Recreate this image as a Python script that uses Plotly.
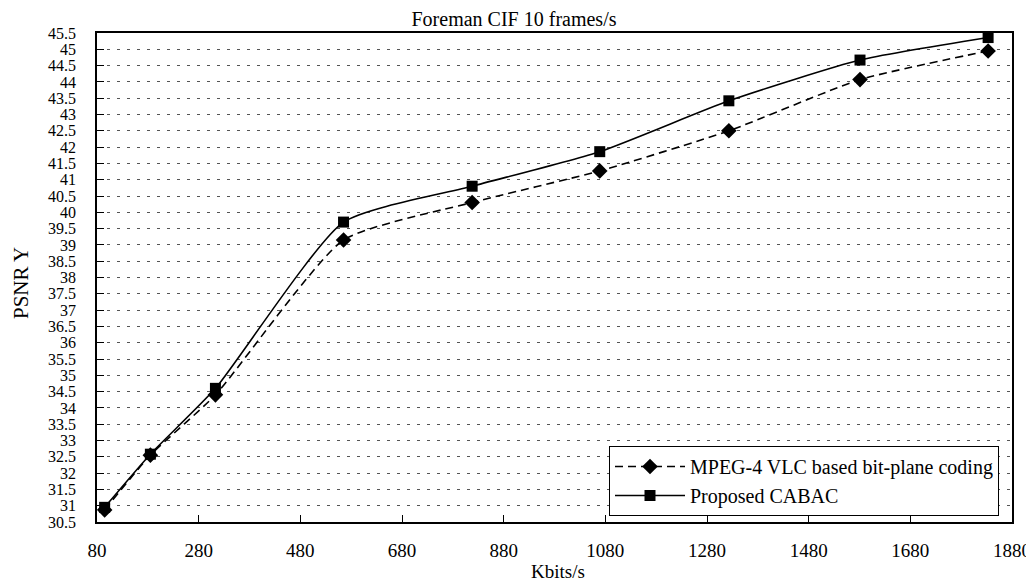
import plotly.graph_objects as go

bitrate = [95, 185, 313, 565, 818, 1069, 1323, 1581, 1833]
psnr_mpeg4 = [30.87, 32.55, 34.4, 39.15, 40.3, 41.27, 42.5, 44.07, 44.95]
psnr_cabac = [30.95, 32.58, 34.6, 39.7, 40.8, 41.86, 43.42, 44.67, 45.36]

x_ticks = [80, 280, 480, 680, 880, 1080, 1280, 1480, 1680, 1880]
y_ticks = [30.5 + 0.5 * i for i in range(31)]
y_labels = [("%g" % v) for v in y_ticks]

series_names = ["MPEG-4 VLC based bit-plane coding", "Proposed CABAC"]
title_text = "Foreman CIF 10 frames/s"
x_title = "Kbits/s"
y_title = "PSNR Y"

FONT = "Liberation Serif, Times New Roman, serif"
# the page body has an 8px margin, so the figure is drawn 8px smaller
OFF = 8
W, H = 1034 - OFF, 588 - OFF
ML, MR, MT, MB = 97 - OFF, 22, 33 - OFF, 66

fig = go.Figure()
fig.add_trace(go.Scatter(
    x=bitrate, y=psnr_mpeg4, name=series_names[0], mode="lines+markers",
    line=dict(color="black", width=1.6, dash="8px,5px", shape="spline", smoothing=0.55),
    marker=dict(symbol="diamond", size=12, color="black"),
))
fig.add_trace(go.Scatter(
    x=bitrate, y=psnr_cabac, name=series_names[1], mode="lines+markers",
    line=dict(color="black", width=1.6, shape="spline", smoothing=0.55),
    marker=dict(symbol="square", size=11, color="black"),
))

pw, ph = W - ML - MR, H - MT - MB


def px(xp):
    return (xp - OFF - ML) / pw


def py(yp):
    return (H - MB - (yp - OFF)) / ph


fig.update_layout(
    template="none",
    width=W, height=H,
    margin=dict(l=ML, r=MR, t=MT, b=MB, pad=0, autoexpand=False),
    paper_bgcolor="white", plot_bgcolor="white",
    font=dict(family=FONT, size=18, color="black"),
    title=dict(text=title_text, x=(514 - OFF) / W, xanchor="center", y=1 - 11 / H,
               yanchor="middle", font=dict(family=FONT, size=20, color="black")),
    showlegend=True,
    legend=dict(
        x=px(609), y=py(516), xanchor="left", yanchor="bottom",
        bgcolor="white", bordercolor="black", borderwidth=1,
        font=dict(family=FONT, size=20, color="black"),
        itemwidth=70, tracegroupgap=0,
    ),
    xaxis=dict(
        range=[80, 1880], tickvals=x_ticks, ticktext=[str(v) for v in x_ticks],
        showline=True, linecolor="black", linewidth=1.5, mirror=True,
        ticks="inside", ticklen=7, tickwidth=1, tickcolor="black",
        showgrid=False, zeroline=False, ticklabelstandoff=10, automargin=False,
        tickfont=dict(family=FONT, size=19),
    ),
    yaxis=dict(
        range=[30.5, 45.5], tickvals=y_ticks, ticktext=y_labels,
        showline=True, linecolor="black", linewidth=1.5, mirror=True,
        ticks="inside", ticklen=7, tickwidth=1, tickcolor="black",
        showgrid=True, gridcolor="#555555", gridwidth=1, griddash="3px,7px",
        zeroline=False, ticklabelstandoff=16, automargin=False,
        tickfont=dict(family=FONT, size=16),
    ),
    annotations=[
        dict(text=x_title, x=px(558), y=py(571), xref="paper", yref="paper",
             xanchor="center", yanchor="middle", showarrow=False,
             font=dict(family=FONT, size=19)),
        dict(text=y_title, x=px(21), y=py(283), xref="paper", yref="paper",
             xanchor="center", yanchor="middle", showarrow=False,
             textangle=-90, font=dict(family=FONT, size=21)),
    ],
)

fig.write_html("out.html")
